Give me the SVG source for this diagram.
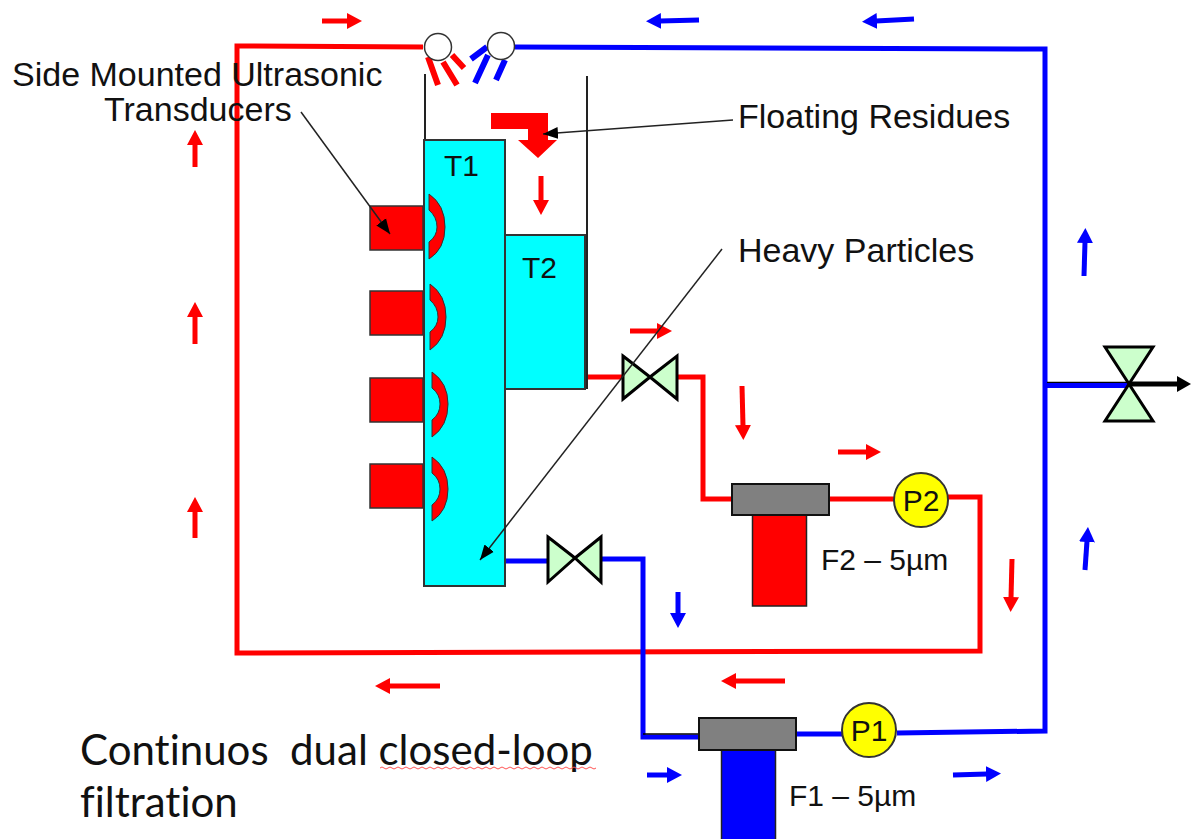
<svg xmlns="http://www.w3.org/2000/svg" width="1192" height="839" viewBox="0 0 1192 839">
<defs>
<marker id="hr" markerUnits="userSpaceOnUse" markerWidth="16" markerHeight="18" refX="1" refY="9" orient="auto"><path d="M0,1L15,9L0,17z" fill="#f00"/></marker>
<marker id="hb" markerUnits="userSpaceOnUse" markerWidth="16" markerHeight="18" refX="1" refY="9" orient="auto"><path d="M0,1L15,9L0,17z" fill="#00f"/></marker>
<marker id="hk" markerUnits="userSpaceOnUse" markerWidth="16" markerHeight="14" refX="15" refY="7" orient="auto"><path d="M0,1L15,7L0,13z" fill="#000"/></marker>
<marker id="hk2" markerUnits="userSpaceOnUse" markerWidth="16" markerHeight="20" refX="1" refY="10" orient="auto"><path d="M0,2L14,10L0,18z" fill="#000"/></marker>
</defs>
<style>
text{font-family:"Liberation Sans",Arial,sans-serif;font-size:34px;fill:#111}
.sm{font-size:30px}
.big{font-family:Lato,"Open Sans",sans-serif;font-size:42px;fill:#111;font-variant-ligatures:none}
.pr,.pb{fill:none;stroke-width:5}
.pr{stroke:#f00}.pb{stroke:#00f}
.sp{stroke-width:6}
.ar{stroke:#f00;stroke-width:5;fill:none;marker-end:url(#hr)}
.ab{stroke:#00f;stroke-width:5;fill:none;marker-end:url(#hb)}
.ln{stroke:#222;stroke-width:1.5;fill:none;marker-end:url(#hk)}
.w{stroke:#222;stroke-width:2;fill:none}
.tank{fill:#0ff;stroke:#333;stroke-width:2}
.tr{fill:#f00;stroke:#333;stroke-width:1.5}
.cr{fill:#f00;stroke:#333;stroke-width:1}
.v{fill:#ccffcc;stroke:#000;stroke-width:3;stroke-linejoin:miter}
.hd{fill:#808080;stroke:#111;stroke-width:2}
.pm{fill:#ff0;stroke:#333;stroke-width:2}
.nz{fill:#fff;stroke:#333;stroke-width:1.5}
</style>
<g id="connectors">
<path class="pr" d="M423,47L237,46L237,653L980,651L980,497L947,497"/>
<path class="pb" d="M515,47L1045,49L1045,731L897,733"/>
<path d="M1047,382.500L1129,382.500" stroke="#000" stroke-width="1.500" fill="none"/>
<path class="pb" d="M1045,385.500L1129,385.500"/>
<path d="M1129,384L1178,384" stroke="#000" stroke-width="5" fill="none" marker-end="url(#hk2)"/>
<path class="pr" d="M586,377L623,377M677,377L703,377L703,499L732,499M828,499L894,499"/>
<path class="pb" d="M506,561L548,561M601,559L643,559L643,737L699,737M796,734L842,734"/>
<path d="M643,734L699,734" stroke="#000" stroke-width="1.500" fill="none"/>
<g id="sprays">
<path class="pr sp" d="M428,57L438,85M443,62L457,85M452,55L464,68"/>
<path class="pb sp" d="M487,47L471,59M488,55L475,83M505,60L496,80"/>
</g>
<g id="flow-arrows">
<path class="ar" d="M322,21L348,21"/><path class="ab" d="M699,20L660,21"/><path class="ab" d="M914,19L876,21"/>
<path class="ar" d="M195,167L195,144"/><path class="ar" d="M195,344L195,316"/><path class="ar" d="M195,538L195,511"/>
<path class="ab" d="M1084,276L1085,242"/><path class="ab" d="M1085,570L1087,541"/>
<path class="ar" d="M541,176L541,201"/><path class="ar" d="M541,310L541,329"/>
<path class="ab" d="M462,214L463,248"/><path class="ab" d="M462,353L462,376"/><path class="ab" d="M463,494L463,513"/>
<path class="ar" d="M630,331L658,331"/><path class="ar" d="M742,386L743,426"/><path class="ar" d="M838,452L867,452"/>
<path class="ar" d="M1012,559L1011,598"/><path class="ar" d="M440,686L389,686"/><path class="ar" d="M785,681L735,681"/>
<path class="ab" d="M678,592L678,614"/><path class="ab" d="M647,775L668,775"/><path class="ab" d="M953,775L987,774"/>
</g>
</g>
<g id="tank-walls"><path class="w" d="M425,74L425,140M587,76L587,389"/></g>
<g id="T1"><rect class="tank" x="424" y="140" width="81" height="446"/><text x="444" y="176" class="sm">T1</text></g>
<g id="T2"><rect class="tank" x="505" y="235" width="80" height="154"/><text x="522" y="278" class="sm">T2</text></g>
<g id="transducer-1"><rect class="tr" x="370" y="206" width="53" height="44"/><path class="cr" d="M429,194Q445,205 445,227Q445,249 429,259L429,242Q437,236 437,227Q437,217 429,210z"/></g>
<g id="transducer-2"><rect class="tr" x="370" y="291" width="53" height="44"/><path class="cr" d="M430,284Q446,295 446,317Q446,339 430,350L430,332Q438,326 438,317Q438,307 430,300z"/></g>
<g id="transducer-3"><rect class="tr" x="370" y="378" width="53" height="44"/><path class="cr" d="M432,372Q448,383 448,404Q448,426 432,437L432,420Q440,414 440,404Q440,394 432,388z"/></g>
<g id="transducer-4"><rect class="tr" x="370" y="464" width="53" height="44"/><path class="cr" d="M432,457Q448,468 448,489Q448,511 432,521L432,505Q440,499 440,489Q440,479 432,473z"/></g>
<g id="residue-arrow"><path fill="#f00" d="M491,113L548,113L548,140L557,140L538,158L518,140L528,140L528,129L491,129z"/></g>
<g id="nozzle-red"><circle class="nz" cx="438" cy="47" r="13.5"/></g>
<g id="nozzle-blue"><circle class="nz" cx="501" cy="46" r="13.5"/></g>
<g id="valve-v1"><path class="v" d="M548,537L575,558L601,537L601,582L575,558L548,582z"/></g>
<g id="valve-v2"><path class="v" d="M623,356L650,377L677,356L677,399L650,377L623,399z"/></g>
<g id="valve-v3"><path class="v" d="M1105,347L1153,347L1129,384L1153,421L1105,421L1129,384z"/></g>
<g id="filter-F2"><rect x="752.500" y="515" width="54" height="91" fill="#f00" stroke="#222" stroke-width="1.500"/><rect class="hd" x="732" y="484" width="97" height="31"/><text x="821" y="570" class="sm">F2 – 5µm</text></g>
<g id="filter-F1"><rect x="721.500" y="750" width="54" height="95" fill="#00f" stroke="#222" stroke-width="1.500"/><rect class="hd" x="699" y="718" width="97" height="32"/><text x="789" y="806" class="sm">F1 – 5µm</text></g>
<g id="pump-P2"><circle class="pm" cx="921" cy="500" r="27"/><text x="921" y="511" class="sm" text-anchor="middle">P2</text></g>
<g id="pump-P1"><circle class="pm" cx="869" cy="730" r="27"/><text x="869" y="741" class="sm" text-anchor="middle">P1</text></g>
<g id="labels">
<text x="12" y="86">Side Mounted Ultrasonic</text>
<text x="104" y="121">Transducers</text>
<text x="738" y="128">Floating Residues</text>
<text x="738" y="262">Heavy Particles</text>
<path class="ln" d="M301,112L390,234"/>
<path class="ln" d="M733,120L543,134"/>
<path class="ln" d="M722,249L480,560"/>
<text class="big" x="80" y="765" xml:space="preserve">Continuos  dual closed-loop</text>
<text class="big" x="80" y="817">filtration</text>
<path d="M380,768q2,-2 4,0t4,0t4,0t4,0t4,0t4,0t4,0t4,0t4,0t4,0t4,0t4,0t4,0t4,0t4,0t4,0t4,0t4,0t4,0t4,0t4,0t4,0t4,0t4,0t4,0t4,0t4,0t4,0t4,0t4,0t4,0t4,0t4,0t4,0t4,0t4,0t4,0t4,0t4,0t4,0t4,0t4,0t4,0t4,0t4,0t4,0t4,0t4,0t4,0t4,0t4,0t4,0t4,0t4,0" fill="none" stroke="#f55" stroke-width="1"/>
</g>
</svg>
